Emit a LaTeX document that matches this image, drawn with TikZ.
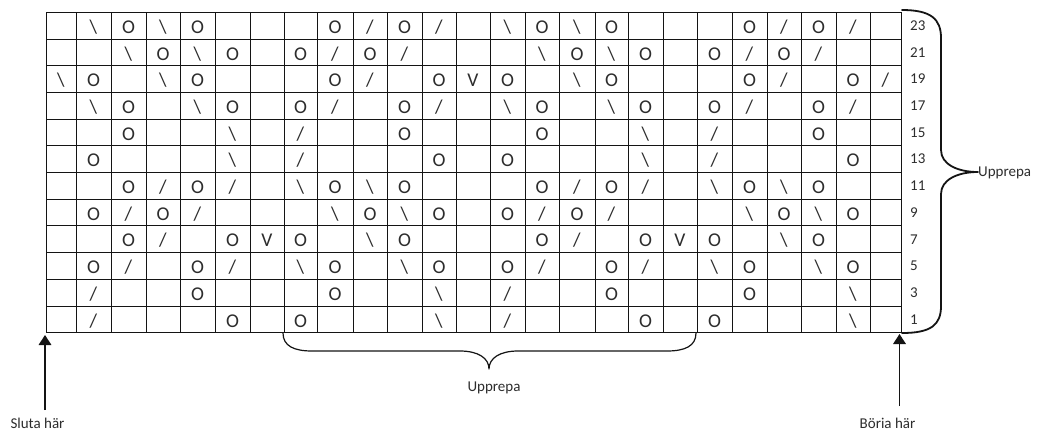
\documentclass[tikz,border=0pt]{standalone}
\usepackage{fontspec}
\setmainfont{Carlito}
\usetikzlibrary{arrows.meta}
\definecolor{ink}{RGB}{45,45,45}
\definecolor{rule}{RGB}{20,20,20}
\newcommand{\ssk}{\textbackslash}
% column edges of the chart (they are not all equal)
\def\colx{{46,76,111,146,180,215,250,284,317,353,387,422,456,490,525,559,595,628,663,697,732,767,801,836,870,901}}

\begin{document}
\begin{tikzpicture}[x=1pt,y=-1pt,
    sym/.style={font=\fontsize{19.5}{19.5}\selectfont,text=ink,inner sep=0pt,anchor=base},
    rowno/.style={font=\fontsize{15}{15}\selectfont,text=ink,inner sep=0pt,anchor=west},
    note/.style={font=\fontsize{15}{15}\selectfont,text=ink,inner sep=0pt,anchor=base},
    brace/.style={draw=rule,line cap=round,line join=round},
    pointer/.style={-{Triangle[length=10pt,width=12.5pt]},line width=1.8pt,rule}]
  \fill[white] (0,0) rectangle (1043,432);
  \useasboundingbox (0,0) rectangle (1043,432);

  % grid
  \foreach \i in {0,...,25}{
    \pgfmathsetmacro\xx{\colx[\i]}
    \draw[rule,line width=1pt,line cap=rect] (\xx,12.3) -- (\xx,332.7);
  }
  \foreach \j in {0,...,12}
    \draw[rule,line width=1pt,line cap=rect] (46,{12.3+26.7*\j}) -- (901,{12.3+26.7*\j});

  % symbols, top row (23) first
  \foreach \row [count=\ri] in {
      {{},\ssk,O,\ssk,O,{},{},{},O,/,O,/,{},\ssk,O,\ssk,O,{},{},{},O,/,O,/,{}},
      {{},{},\ssk,O,\ssk,O,{},O,/,O,/,{},{},{},\ssk,O,\ssk,O,{},O,/,O,/,{},{}},
      {\ssk,O,{},\ssk,O,{},{},{},O,/,{},O,V,O,{},\ssk,O,{},{},{},O,/,{},O,/},
      {{},\ssk,O,{},\ssk,O,{},O,/,{},O,/,{},\ssk,O,{},\ssk,O,{},O,/,{},O,/,{}},
      {{},{},O,{},{},\ssk,{},/,{},{},O,{},{},{},O,{},{},\ssk,{},/,{},{},O,{},{}},
      {{},O,{},{},{},\ssk,{},/,{},{},{},O,{},O,{},{},{},\ssk,{},/,{},{},{},O,{}},
      {{},{},O,/,O,/,{},\ssk,O,\ssk,O,{},{},{},O,/,O,/,{},\ssk,O,\ssk,O,{},{}},
      {{},O,/,O,/,{},{},{},\ssk,O,\ssk,O,{},O,/,O,/,{},{},{},\ssk,O,\ssk,O,{}},
      {{},{},O,/,{},O,V,O,{},\ssk,O,{},{},{},O,/,{},O,V,O,{},\ssk,O,{},{}},
      {{},O,/,{},O,/,{},\ssk,O,{},\ssk,O,{},O,/,{},O,/,{},\ssk,O,{},\ssk,O,{}},
      {{},/,{},{},O,{},{},{},O,{},{},\ssk,{},/,{},{},O,{},{},{},O,{},{},\ssk,{}},
      {{},/,{},{},{},O,{},O,{},{},{},\ssk,{},/,{},{},{},O,{},O,{},{},{},\ssk,{}}}{
    \pgfmathsetmacro\yb{12.3+26.7*(\ri-1)+21}
    \pgfmathsetmacro\yc{12.3+26.7*(\ri-0.5)}
    \pgfmathtruncatemacro\rn{25-2*\ri}
    \node[rowno] (r\rn) at (910,\yc) {\rn};
    \foreach \s [count=\ci] in \row {
      \pgfmathtruncatemacro\cl{\ci-1}
      \pgfmathsetmacro\xl{\colx[\cl]}
      \pgfmathsetmacro\xr{\colx[\ci]}
      \node[sym] (c\rn-\ci) at ({(\xl+\xr)/2},\yb) {\s};
    }
  }

  % repeat braces
  \draw[brace,line width=1.8pt] (902,10) .. controls (931,10) and (941,19) .. (941,38)
    -- (941,150) .. controls (941,164) and (957,172) .. (978,172)
    .. controls (957,172) and (941,180) .. (941,194) -- (941,306)
    .. controls (941,325) and (931,333) .. (902,333);
  \node[note,anchor=base west] (rep-rows) at (978,176.4) {Upprepa};

  \draw[brace,line width=1.2pt] (283,333) .. controls (283,346) and (294,351) .. (312,351)
    -- (460,351) .. controls (478,351) and (489,358) .. (489,369)
    .. controls (489,358) and (500,351) .. (518,351) -- (667,351)
    .. controls (685,351) and (696,346) .. (696,333);
  \node[note] (rep-cols) at (494,391.5) {Upprepa};

  % where to start and stop
  \coordinate (stop-tip) at (45,335);
  \coordinate (stop-foot) at (45,410);
  \draw[pointer] (stop-foot) -- (stop-tip);
  \node[note] (stop) at (37.5,428.5) {Sluta här};

  \coordinate (start-tip) at (899.5,334);
  \coordinate (start-foot) at (899.5,406);
  \draw[pointer] (start-foot) -- (start-tip);
  \node[note] (start) at (887.5,428.5) {Böria här};
\end{tikzpicture}
\end{document}
